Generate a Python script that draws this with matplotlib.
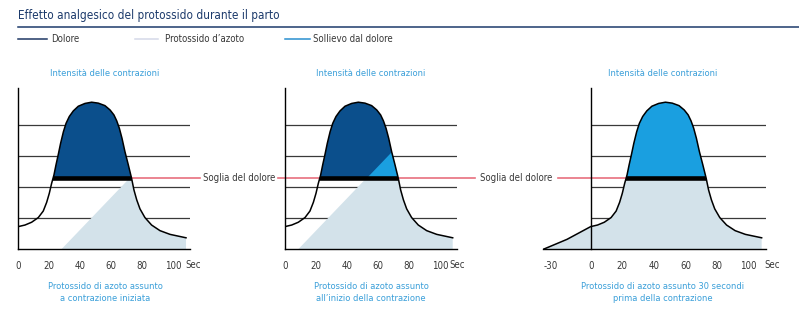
import numpy as np
import matplotlib.pyplot as plt
from matplotlib.patches import Polygon
from matplotlib.lines import Line2D

plt.rcParams['font.family'] = ['DejaVu Sans']
plt.rcParams['font.stretch'] = 'condensed'

# curva della contrazione: secondi / intensità (unità = righe della griglia)
curve_sec = [0.0, 4.3, 8.6, 12.9, 16.1, 18.3, 20.0, 21.5, 23.0, 24.3, 25.8, 27.3,
             29.1, 30.8, 32.9, 35.5, 38.7, 43.0, 47.3, 51.6, 55.9, 59.2, 61.7,
             63.5, 65.2, 66.9, 68.8, 71.0, 73.1, 74.6, 76.4, 78.5, 81.7, 86.0,
             91.4, 97.9, 108.2]
curve_int = [0.73, 0.78, 0.87, 1.02, 1.23, 1.51, 1.80, 2.12, 2.39, 2.71, 3.05, 3.41,
             3.78, 4.05, 4.27, 4.45, 4.60, 4.69, 4.73, 4.70, 4.62, 4.48, 4.32,
             4.13, 3.89, 3.57, 3.14, 2.71, 2.28, 1.91, 1.59, 1.30, 1.02, 0.78,
             0.60, 0.48, 0.37]
# tratto prima della contrazione (terzo grafico)
pre_sec = [-30, -15]
pre_int = [0.0, 0.32]

threshold = 2.30
uptake_start = [27.8, 8.5, -30]     # inizio effetto del protossido (sec)
uptake_slope = [0.052, 0.052, 0.3]  # salita per secondo
grid_levels = [1, 2, 3, 4]

ticks = [[0, 20, 40, 60, 80, 100],
         [0, 20, 40, 60, 80, 100],
         [-30, 0, 20, 40, 60, 80, 100]]
captions = ["Protossido di azoto assunto\na contrazione iniziata",
            "Protossido di azoto assunto\nall\u2019inizio della contrazione",
            "Protossido di azoto assunto 30 secondi\nprima della contrazione"]

dark_blue = '#0b4f8c'
relief_blue = '#1a9fe0'
light_fill = '#d3e2ea'
red = '#e8707e'
navy = '#1c3a6b'
text_blue = '#3a9fd9'
text_grey = '#383838'

W, H = 799, 330
fig = plt.figure(figsize=(W / 100, H / 100), dpi=100)


def fx(x):
    return x / W


def fy(y):
    return 1 - y / H


# posizione in pixel: (asse x=0, px/sec, xmin, xmax)
panels = [(18.3, 1.55, 0, 111), (285.0, 1.55, 0, 111), (590.7, 1.58, -30, 111)]
y_base, px_unit, y_top = 249.3, 31.1, 5.2

red_segments = [[(50, 117.2)], [(-4.3, 50), (50, 122.6)], [(-20.5, 50)]]
sec_pos = [108, 106, 110]

for i, (x0, sc, xmin, xmax) in enumerate(panels):
    left = x0 + xmin * sc
    ax = fig.add_axes([fx(left), fy(y_base), (xmax - xmin) * sc / W, y_top * px_unit / H])
    ax.set_xlim(xmin, xmax)
    ax.set_ylim(0, y_top)
    ax.patch.set_visible(False)
    for s in ['top', 'right']:
        ax.spines[s].set_visible(False)
    for s in ['left', 'bottom']:
        ax.spines[s].set_linewidth(1.0)
        ax.spines[s].set_color('black')
    ax.spines['left'].set_position(('data', 0))

    if i == 2:
        xs = np.array(pre_sec + curve_sec)
        ys = np.array(pre_int + curve_int)
    else:
        xs = np.array(curve_sec)
        ys = np.array(curve_int)

    area = Polygon(np.column_stack([np.r_[xs[0], xs, xs[-1]], np.r_[0, ys, 0]]),
                   closed=True, transform=ax.transData)

    ax.hlines(grid_levels, 0, xmax, color='#3a3a3a', lw=0.9, zorder=1)

    s0, k = uptake_start[i], uptake_slope[i]
    x_thr = s0 + threshold / k
    light = Polygon([(s0, 0), (x_thr, threshold), (200, threshold), (200, 0)],
                    closed=True, color=light_fill, lw=0, zorder=2)
    ax.add_patch(light)
    light.set_clip_path(area)

    dark = Polygon([(-50, threshold), (200, threshold), (200, 10), (-50, 10)],
                   closed=True, color=dark_blue, lw=0, zorder=3)
    ax.add_patch(dark)
    dark.set_clip_path(area)

    relief = Polygon([(x_thr, threshold), (200, threshold), (200, (200 - s0) * k)],
                     closed=True, color=relief_blue, lw=0, zorder=4)
    ax.add_patch(relief)
    relief.set_clip_path(area)

    for a, b in red_segments[i]:
        ax.plot([a, b], [threshold, threshold], color=red, lw=1.2, clip_on=False, zorder=1.5)

    band, = ax.plot([-50, 200], [threshold, threshold], color='black', lw=3.3,
                    solid_capstyle='butt', zorder=5)
    band.set_clip_path(area)

    ax.plot(xs, ys, color='black', lw=1.1, zorder=6)

    ax.set_yticks([])
    ax.set_xticks(ticks[i], [str(t) for t in ticks[i]])
    ax.tick_params(axis='x', length=0, pad=8.5, labelsize=6.9, labelcolor=text_grey)
    if i == 2:
        ax.get_xticklabels()[0].set_ha('left')
    ax.text(sec_pos[i], -0.094, 'Sec', transform=ax.get_xaxis_transform(),
            ha='left', va='center', fontsize=6.9, color=text_grey)

# titoli e didascalie dei pannelli
for cx, cap in zip([105, 371, 663], captions):
    fig.text(fx(cx), fy(73.3), 'Intensit\u00e0 delle contrazioni', ha='center', va='center',
             fontsize=6.7, color=text_blue)
    fig.text(fx(cx), fy(292.5), cap, ha='center', va='center', fontsize=6.7,
             color=text_blue, linespacing=1.45)

for cx in [239, 516]:
    fig.text(fx(cx), fy(178.3), 'Soglia del dolore', ha='center', va='center',
             fontsize=6.9, color=text_grey)

# titolo e legenda
fig.text(fx(18.3), fy(15), 'Effetto analgesico del protossido durante il parto',
         ha='left', va='center', fontsize=8.5, color=navy)
fig.add_artist(Line2D([fx(18.3), fx(799)], [fy(26.7)] * 2, color=navy, lw=1.1))

legend_items = [('Dolore', '#1f3864', 18.3, 46.7, 50.7),
                ('Protossido d\u2019azoto', '#d4d9e8', 135, 158, 165),
                ('Sollievo dal dolore', '#2a8fd0', 285, 310, 313.3)]
for lab, col, a, b, tx in legend_items:
    fig.add_artist(Line2D([fx(a), fx(b)], [fy(39)] * 2, color=col, lw=1.1))
    fig.text(fx(tx), fy(39), lab, ha='left', va='center', fontsize=6.9, color=text_grey)

fig.savefig('out.png', dpi=100)
